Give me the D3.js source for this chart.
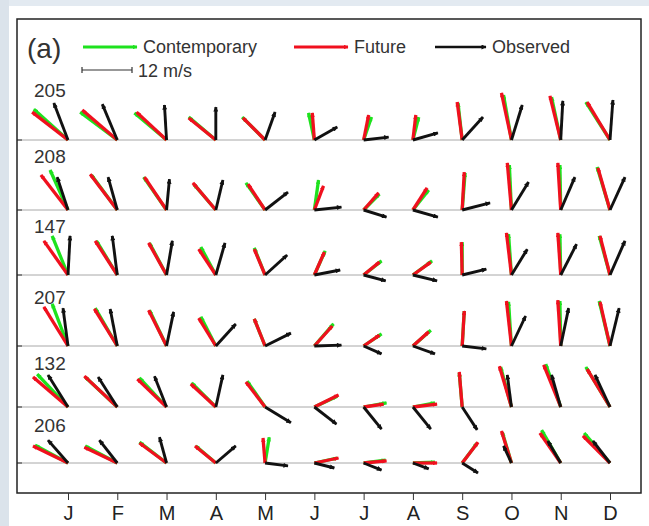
<!DOCTYPE html>
<html>
<head>
<meta charset="utf-8">
<script src="https://cdn.jsdelivr.net/npm/d3@7/dist/d3.min.js"></script>
<style>
  body { margin: 0; background: #fff; }
  text { font-family: "Liberation Sans", Arial, sans-serif; fill: #222; }
</style>
</head>
<body>
<div id="container"></div>
<script>
const months = ['J', 'F', 'M', 'A', 'M', 'J', 'J', 'A', 'S', 'O', 'N', 'D'];
const stations = ['205', '208', '147', '207', '132', '206'];

// wind components in m/s (u = eastward, v = northward), one row per station
const contemporaryU = [
  [-8.2, -8.9, -7.7, -6.5, -5.5, -1.4, 1.9, 1.4, -1.0, -1.9, -2.2, -5.8],
  [-4.3, -6.2, -5.5, -5.3, -4.6, 1.0, 3.8, 3.8, 0.7, -0.5, -0.2, -3.1],
  [-3.8, -5.0, -4.1, -3.6, -2.6, 2.6, 4.3, 4.6, 0.0, -0.7, -0.2, -2.6],
  [-3.8, -5.3, -4.1, -3.6, -2.6, 4.6, 4.3, 4.3, 0.5, -0.7, -0.2, -2.6],
  [-7.4, -7.7, -6.5, -5.8, -4.3, 5.5, 5.5, 5.3, -0.7, -2.6, -3.6, -5.8],
  [-7.9, -7.7, -6.5, -4.8, 1.0, 5.5, 5.3, 5.3, 3.6, -2.2, -4.6, -6.2]
];
const contemporaryV = [
  [7.4, 6.7, 6.5, 5.5, 5.5, 6.5, 5.5, 5.5, 8.9, 10.8, 10.3, 9.1],
  [9.6, 8.4, 7.9, 6.2, 6.5, 7.2, 3.8, 4.8, 8.9, 10.8, 10.8, 10.3],
  [9.4, 8.2, 7.7, 6.7, 6.5, 5.8, 3.4, 3.4, 7.9, 9.8, 9.8, 9.4],
  [10.1, 9.1, 8.6, 7.0, 6.5, 5.3, 2.9, 3.8, 8.4, 10.6, 10.8, 10.8],
  [7.9, 7.2, 7.0, 5.8, 6.2, 2.6, 1.0, 1.0, 8.2, 9.6, 10.3, 9.6],
  [4.3, 4.1, 5.0, 4.1, 6.2, 1.2, 0.7, 0.2, 4.8, 7.4, 7.9, 7.2]
];
const futureU = [
  [-8.6, -8.4, -7.2, -6.5, -5.3, -0.5, 1.2, 0.7, -1.2, -2.4, -2.6, -5.5],
  [-6.5, -6.5, -5.3, -5.5, -4.1, 2.2, 3.6, 3.4, 0.5, -1.0, -0.7, -2.9],
  [-5.8, -5.3, -4.3, -4.1, -2.6, 2.4, 3.8, 4.3, -0.2, -1.2, -0.7, -2.4],
  [-5.8, -5.5, -4.3, -4.1, -2.6, 4.3, 3.8, 3.8, 0.5, -1.2, -0.7, -2.4],
  [-8.4, -7.9, -7.0, -6.0, -4.6, 5.8, 4.8, 5.8, -0.7, -2.9, -4.1, -5.5],
  [-8.4, -7.9, -6.5, -5.0, -0.5, 5.8, 5.5, 5.8, 3.8, -2.4, -5.0, -6.5]
];
const futureV = [
  [6.7, 7.2, 6.7, 5.3, 5.3, 6.5, 6.0, 6.0, 9.1, 11.3, 10.6, 9.1],
  [8.4, 8.6, 7.9, 6.5, 6.2, 5.8, 4.1, 5.3, 9.1, 11.3, 11.3, 10.1],
  [8.2, 8.2, 7.7, 6.2, 6.2, 5.5, 3.1, 3.1, 7.9, 10.1, 10.1, 9.4],
  [9.4, 8.9, 8.6, 6.7, 6.5, 4.8, 2.6, 3.4, 8.4, 10.8, 11.0, 10.6],
  [7.2, 7.4, 6.7, 5.5, 6.0, 2.9, 0.7, 0.7, 8.4, 9.8, 10.1, 9.1],
  [4.1, 3.8, 4.8, 4.1, 6.0, 1.2, 0.5, 0.0, 5.0, 7.7, 7.2, 6.5]
];
const observedU = [
  [-3.4, -3.6, -0.5, 0.0, 2.4, 5.5, 6.0, 6.0, 5.0, 2.6, 0.5, 0.7],
  [-2.6, -2.2, 0.7, 1.7, 5.5, 6.5, 5.5, 6.0, 6.7, 4.1, 3.4, 3.6],
  [0.5, -1.2, 1.4, 2.2, 5.3, 6.2, 5.3, 5.8, 5.8, 3.8, 3.8, 3.6],
  [-1.2, -1.7, 1.7, 4.8, 6.2, 6.5, 4.3, 5.3, 5.8, 3.4, 1.9, 2.2],
  [-4.8, -4.6, -2.9, 1.7, 6.2, 5.3, 4.3, 4.3, 3.6, -1.0, -2.2, -3.6],
  [-4.8, -4.3, -1.7, 4.8, 5.5, 4.8, 4.3, 3.8, 3.8, -1.9, -3.1, -4.1]
];
const observedV = [
  [8.9, 8.6, 8.4, 7.9, 6.7, 3.1, 0.7, 1.7, 5.5, 8.4, 9.4, 9.6],
  [7.9, 7.9, 7.4, 7.2, 4.3, 0.7, -1.7, -1.7, 1.7, 6.7, 7.9, 7.9],
  [9.4, 9.4, 8.2, 7.7, 4.8, 1.2, -1.4, -1.4, 1.4, 6.2, 7.4, 8.2],
  [9.1, 8.9, 8.2, 5.3, 3.1, 0.2, -1.9, -1.9, -0.7, 7.2, 9.1, 9.1],
  [7.7, 7.2, 7.4, 7.7, -3.8, -4.1, -5.3, -5.3, -5.5, 7.7, 7.7, 7.7],
  [5.5, 5.5, 6.2, 4.1, -0.7, -1.2, -1.7, -1.4, -2.4, 4.1, 5.3, 5.3]
];

const seriesNames = ['Contemporary', 'Future', 'Observed'];
const seriesColors = ['#1ee21e', '#f0101e', '#111111'];

const config = {
    width: 649,
    height: 526,
    frameLeft: 17,
    frameTop: 19,
    frameRight: 641,
    frameBottom: 493,
}

const svg = d3.select('#container')
    .append('svg')
    .attr('width', config.width)
    .attr('height', config.height)

// screenshot edge tint
svg.append('rect').attr('x', 0).attr('y', 0).attr('width', config.width).attr('height', 6).attr('fill', '#e3eaf1')
svg.append('rect').attr('x', 0).attr('y', 0).attr('width', 9).attr('height', config.height).attr('fill', '#dbe3eb')

const xScale = d3.scalePoint()
    .domain(d3.range(months.length))
    .range([68, 610])

// row baselines
const yScale = d3.scaleOrdinal()
    .domain(stations)
    .range([140, 210, 275, 346, 407, 463])

const labelOffset = [43, 47, 42, 42, 37, 31];

// 12 m/s == 50 px
const lenScale = d3.scaleLinear().domain([0, 12]).range([0, 50])

const defs = svg.append('defs');
seriesColors.forEach((c, i) => {
    defs.append('marker')
        .attr('id', 'head' + i)
        .attr('viewBox', '0 0 10 10')
        .attr('refX', 9)
        .attr('refY', 5)
        .attr('markerWidth', i === 2 ? 6 : 5)
        .attr('markerHeight', i === 2 ? 5 : 4.5)
        .attr('markerUnits', 'userSpaceOnUse')
        .attr('orient', 'auto')
        .append('path')
        .attr('d', 'M0,0 L10,5 L0,10 z')
        .attr('fill', c)
});

// baselines + inward ticks
svg.append('g').selectAll('line')
    .data(stations)
    .join('line')
    .attr('x1', config.frameLeft)
    .attr('x2', xScale(11))
    .attr('y1', d => yScale(d))
    .attr('y2', d => yScale(d))
    .attr('stroke', '#a8a8a8')
    .attr('stroke-width', 1)

svg.append('g').selectAll('line')
    .data(stations)
    .join('line')
    .attr('x1', config.frameLeft)
    .attr('x2', config.frameLeft + 5)
    .attr('y1', d => yScale(d))
    .attr('y2', d => yScale(d))
    .attr('stroke', '#333')
    .attr('stroke-width', 1)

svg.append('g').selectAll('text')
    .data(stations)
    .join('text')
    .attr('x', 34)
    .attr('y', (d, i) => yScale(d) - labelOffset[i])
    .text(d => d)
    .style('font-size', '19px')
    .style('fill', '#333')

// vectors
const allU = [contemporaryU, futureU, observedU];
const allV = [contemporaryV, futureV, observedV];
const vectors = [];
allU.forEach((U, s) => {
    stations.forEach((st, r) => {
        months.forEach((m, c) => {
            vectors.push({series: s, station: st, month: c, u: U[r][c], v: allV[s][r][c]});
        });
    });
});

svg.append('g').attr('class', 'vectors')
    .selectAll('line')
    .data(vectors)
    .join('line')
    .attr('x1', d => xScale(d.month))
    .attr('y1', d => yScale(d.station))
    .attr('x2', d => xScale(d.month) + lenScale(d.u))
    .attr('y2', d => yScale(d.station) - lenScale(d.v))
    .attr('stroke', d => seriesColors[d.series])
    .attr('stroke-width', d => d.series === 2 ? 2.9 : 3.3)
    .attr('marker-end', d => `url(#head${d.series})`)

// frame
svg.append('rect')
    .attr('x', config.frameLeft)
    .attr('y', config.frameTop)
    .attr('width', config.frameRight - config.frameLeft)
    .attr('height', config.frameBottom - config.frameTop)
    .attr('fill', 'none')
    .attr('stroke', '#222')
    .attr('stroke-width', 1.5)

const xAxis = svg.append('g')
    .attr('transform', `translate(0,${config.frameBottom})`)
    .call(d3.axisBottom(xScale).tickSize(7).tickPadding(6).tickFormat(i => months[i]))
xAxis.select('.domain').remove()
xAxis.selectAll('.tick line').attr('stroke', '#333')
xAxis.selectAll('text')
    .style('font-size', '20px')
    .style('font-family', '"Liberation Sans", Arial, sans-serif')
    .attr('fill', '#333')

// legend
svg.append('text')
    .attr('x', 27)
    .attr('y', 58)
    .text('(a)')
    .style('font-size', '28px')
    .style('fill', '#333')

const legendX = [83, 294, 435];
const legendLen = [54, 54, 51];
const legend = svg.append('g').attr('class', 'legend');
legend.selectAll('line')
    .data(seriesNames)
    .join('line')
    .attr('x1', (d, i) => legendX[i])
    .attr('x2', (d, i) => legendX[i] + legendLen[i])
    .attr('y1', 47)
    .attr('y2', 47)
    .attr('stroke', (d, i) => seriesColors[i])
    .attr('stroke-width', (d, i) => i === 2 ? 2.5 : 3)
    .attr('marker-end', (d, i) => `url(#head${i})`)
legend.selectAll('text')
    .data(seriesNames)
    .join('text')
    .attr('x', (d, i) => legendX[i] + legendLen[i] + 6)
    .attr('y', 53)
    .text(d => d)
    .style('font-size', '18px')
    .style('fill', '#333')

// scale bar
const bar = svg.append('g').attr('transform', 'translate(82,70)');
bar.append('line').attr('x1', 0).attr('x2', lenScale(12)).attr('y1', 0).attr('y2', 0)
    .attr('stroke', '#333').attr('stroke-width', 1.2)
bar.selectAll('.end')
    .data([0, 12])
    .join('line')
    .attr('x1', d => lenScale(d)).attr('x2', d => lenScale(d))
    .attr('y1', -3).attr('y2', 3)
    .attr('stroke', '#333').attr('stroke-width', 1.2)
bar.append('text')
    .attr('x', lenScale(12) + 6)
    .attr('y', 7)
    .text('12 m/s')
    .style('font-size', '18px')
    .style('fill', '#333')
</script>
</body>
</html>
